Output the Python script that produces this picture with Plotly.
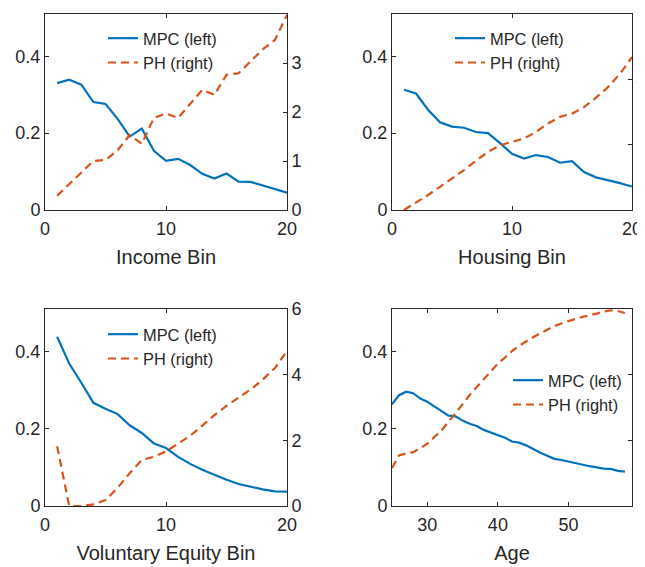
import plotly.graph_objects as go

# ---------------- data ----------------
bins = list(range(1, 21))

income_mpc = [0.330, 0.339, 0.326, 0.281, 0.276, 0.237, 0.191, 0.212, 0.154, 0.128,
              0.133, 0.117, 0.094, 0.082, 0.095, 0.074, 0.073, 0.063, 0.055, 0.045]
income_ph = [0.29, 0.53, 0.76, 1.00, 1.02, 1.22, 1.53, 1.35, 1.88, 1.97,
             1.88, 2.16, 2.45, 2.35, 2.76, 2.79, 3.03, 3.28, 3.47, 3.98]

housing_mpc = [0.313, 0.303, 0.261, 0.228, 0.217, 0.214, 0.203, 0.200, 0.174, 0.146,
               0.134, 0.143, 0.138, 0.123, 0.127, 0.099, 0.085, 0.078, 0.070, 0.061]
housing_ph = [0.00, 0.22, 0.46, 0.71, 0.97, 1.22, 1.51, 1.78, 1.98, 2.09,
              2.19, 2.39, 2.65, 2.85, 2.95, 3.15, 3.44, 3.76, 4.17, 4.68]

equity_mpc = [0.438, 0.369, 0.319, 0.267, 0.252, 0.238, 0.209, 0.189, 0.162, 0.150,
              0.127, 0.109, 0.094, 0.080, 0.068, 0.057, 0.049, 0.043, 0.038, 0.037]
equity_ph = [1.82, 0.00, 0.00, 0.05, 0.18, 0.55, 1.00, 1.40, 1.50, 1.66,
             1.90, 2.14, 2.45, 2.77, 3.05, 3.30, 3.55, 3.85, 4.20, 4.72]

ages = list(range(25, 59))
age_mpc = [0.263, 0.287, 0.296, 0.292, 0.278, 0.270, 0.258, 0.247, 0.234, 0.232,
           0.221, 0.213, 0.207, 0.197, 0.190, 0.183, 0.177, 0.167, 0.164, 0.157,
           0.147, 0.138, 0.130, 0.122, 0.119, 0.115, 0.110, 0.106, 0.103, 0.100,
           0.097, 0.096, 0.091, 0.089]
age_ph = [0.58, 0.77, 0.80, 0.82, 0.88, 0.95, 1.05, 1.15, 1.28, 1.41,
          1.55, 1.69, 1.81, 1.94, 2.06, 2.17, 2.26, 2.36, 2.44, 2.51,
          2.57, 2.63, 2.69, 2.74, 2.78, 2.82, 2.85, 2.88, 2.90, 2.93,
          2.96, 2.98, 2.97, 2.94]

x_titles = ["Income Bin", "Housing Bin", "Voluntary Equity Bin", "Age"]
right_max = [4, 6, 6, 3]

# ---------------- styling ----------------
# the page body adds an 8px margin, so the figure is 8px smaller than the window
W, H = 637, 559
BLUE = "#0072BD"
ORANGE = "#D95319"
AX = "#262626"
FONT = "Liberation Sans, Arial, Helvetica, sans-serif"

# plot-area boxes in figure pixels: (left, right, top, bottom)
boxes = [(37, 279, 6, 202), (384, 624, 6, 202),
         (37, 279, 301, 498), (384, 624, 301, 498)]

panels = [
    (bins, income_mpc, income_ph, [0, 20], [0, 10, 20]),
    (bins, housing_mpc, housing_ph, [0, 20], [0, 10, 20]),
    (bins, equity_mpc, equity_ph, [0, 20], [0, 10, 20]),
    (ages, age_mpc, age_ph, [25, 59], [30, 40, 50]),
]

# legend anchor positions in figure pixels (left, top)
legend_pos = [(95, 13), (442, 13), (95, 309), (500, 355)]

fig = go.Figure()
layout = {}
for i, (x, mpc, ph, xr, xt) in enumerate(panels):
    k = i + 1
    xa = f"x{2*i+1}"
    ya_l = f"y{2*i+1}"
    ya_r = f"y{2*i+2}"
    leg = "legend" if k == 1 else f"legend{k}"
    fig.add_trace(go.Scatter(x=x, y=mpc, mode="lines", name="MPC (left)",
                             line=dict(color=BLUE, width=2.2),
                             xaxis=xa, yaxis=ya_l, legend=leg))
    fig.add_trace(go.Scatter(x=x, y=ph, mode="lines", name="PH (right)",
                             line=dict(color=ORANGE, width=2.2, dash="8px,5px"),
                             xaxis=xa, yaxis=ya_r, legend=leg))
    l, r, t, b = boxes[i]
    xd = [l / W, r / W]
    yd = [1 - b / H, 1 - t / H]
    xname = "xaxis" if 2*i+1 == 1 else f"xaxis{2*i+1}"
    ylname = "yaxis" if 2*i+1 == 1 else f"yaxis{2*i+1}"
    yrname = f"yaxis{2*i+2}"
    common = dict(showline=True, linecolor=AX, linewidth=1, ticks="inside",
                  ticklen=4, tickcolor=AX, showgrid=False, zeroline=False,
                  automargin=False,
                  tickfont=dict(size=18, color=AX, family=FONT))
    layout[xname] = dict(domain=xd, anchor=ya_l, range=xr, tickvals=xt,
                         mirror="ticks", ticklabelstandoff=2,
                         title=dict(text=x_titles[i], standoff=12,
                                    font=dict(size=20, color=AX, family=FONT)),
                         **common)
    layout[ylname] = dict(domain=yd, anchor=xa, range=[0, 0.51],
                          tickvals=[0, 0.2, 0.4], ticktext=["0", "0.2", "0.4"],
                          **common)
    layout[yrname] = dict(domain=yd, anchor=xa, overlaying=ya_l, side="right",
                          range=[0, right_max[i]], dtick=1 if right_max[i] <= 4 else 2,
                          **common)
    lx, ly = legend_pos[i]
    layout[leg] = dict(x=lx / W, y=1 - ly / H, xanchor="left", yanchor="top",
                       bgcolor="rgba(0,0,0,0)", borderwidth=0,
                       font=dict(size=16.4, color=AX, family=FONT),
                       tracegroupgap=0, itemwidth=30)

fig.update_layout(width=W, height=H, margin=dict(l=0, r=0, t=0, b=0, autoexpand=False),
                  paper_bgcolor="white", plot_bgcolor="white",
                  font=dict(family=FONT, color=AX), **layout)
fig.write_html("out.html")
